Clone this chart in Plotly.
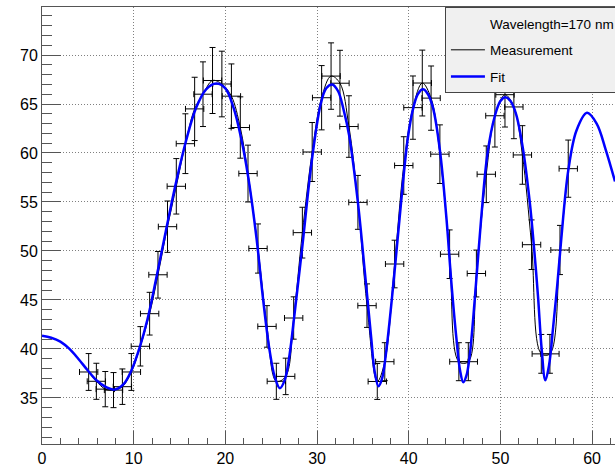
import plotly.graph_objects as go

# Measured points (position, signal) with their uncertainties
meas_x = [5.09, 5.93, 6.9, 7.8, 8.77, 9.75, 10.73, 11.74, 12.65, 13.69,
          14.65, 15.64, 16.65, 17.56, 18.6, 19.62, 20.66, 21.63, 22.47, 23.56,
          24.54, 25.56, 26.58, 27.45, 28.4, 29.47, 30.5, 31.53, 32.5, 33.48,
          34.46, 35.45, 36.57, 37.39, 38.46, 39.46, 40.46, 41.48, 42.44, 43.4,
          44.46, 45.47, 46.5, 47.38, 48.46, 49.4, 50.5, 51.47, 52.4, 53.4,
          54.46, 55.4, 56.5, 57.4]
meas_y = [37.65, 36.7, 35.9, 35.8, 36.15, 37.65, 40.27, 43.6, 47.57, 52.48,
          56.6, 60.95, 64.5, 66.0, 67.4, 67.04, 65.8, 62.6, 57.9, 50.25,
          42.3, 36.7, 37.2, 43.16, 51.87, 60.1, 65.64, 67.85, 67.12, 62.7,
          54.96, 44.42, 36.68, 38.7, 48.67, 58.72, 64.63, 67.14, 65.6, 59.88,
          49.67, 38.7, 38.7, 47.7, 57.83, 63.8, 65.95, 64.7, 59.8, 50.64,
          39.5, 39.5, 50.1, 58.4]
meas_ey = [1.88, 1.84, 1.80, 1.79, 1.81, 1.88, 2.01, 2.18, 2.38, 2.62,
           2.83, 3.05, 3.23, 3.30, 3.37, 3.35, 3.29, 3.13, 2.90, 2.51,
           2.12, 1.84, 1.86, 2.16, 2.59, 3.01, 3.28, 3.39, 3.36, 3.14,
           2.75, 2.22, 1.83, 1.94, 2.43, 2.94, 3.23, 3.36, 3.28, 2.99,
           2.48, 1.94, 1.94, 2.39, 2.89, 3.19, 3.30, 3.24, 2.99, 2.53,
           1.98, 1.98, 2.51, 2.92]
meas_ex = 1.0

# Fitted curve, sampled along the full axis
fit_x = [0.0, 1.0, 2.0, 3.0, 4.0, 5.0, 6.0, 7.0, 7.9, 8.85, 9.75, 10.7,
         11.5, 12.5, 13.5, 14.6, 15.7, 16.8, 17.9, 19.0, 20.0, 20.9,
         21.7, 22.5, 23.4, 24.1, 24.8, 25.4, 25.95, 26.5, 27.0, 27.5,
         28.4, 29.4, 30.4, 31.0, 31.65, 32.3, 32.9, 33.5, 34.45, 35.2,
         35.9, 36.3, 36.7, 37.1, 37.5, 38.3, 39.0, 39.9, 40.5, 41.0,
         41.55, 42.1, 42.65, 43.4, 44.1, 44.65, 45.2, 45.6, 45.95, 46.3,
         46.65, 47.2, 47.9, 48.6, 49.4, 50.0, 50.55, 51.1, 51.7, 52.45,
         53.2, 53.7, 54.1, 54.5, 54.9, 55.3, 55.75, 56.2, 56.6, 57.4,
         58.3, 59.45, 60.5, 61.5, 62.5]
fit_y = [41.36, 41.15, 40.75, 40.0, 38.95, 37.8, 36.75, 36.1, 35.85, 36.35, 37.8, 40.3,
         43.0, 47.4, 52.0, 56.9, 61.2, 64.6, 66.5, 67.1, 66.6, 64.6,
         61.6, 57.5, 51.3, 45.2, 40.0, 37.1, 36.0, 36.9, 39.4, 43.2,
         50.5, 59.0, 65.0, 66.6, 67.0, 66.3, 64.4, 61.8, 55.0, 48.0,
         41.2, 37.6, 36.2, 37.0, 39.4, 46.4, 53.3, 61.5, 64.6, 66.0,
         66.5, 66.0, 64.6, 60.3, 53.5, 46.8, 41.1, 37.8, 36.6, 37.3,
         39.3, 45.0, 53.3, 60.0, 63.8, 65.3, 65.7, 65.3, 64.0, 60.5,
         55.0, 50.0, 45.4, 40.0, 36.8, 38.3, 42.2, 46.5, 50.8, 58.2,
         62.3, 64.1, 63.0, 60.3, 57.1]

x_ticks = [0, 10, 20, 30, 40, 50, 60]
y_ticks = [35, 40, 45, 50, 55, 60, 65, 70]

AXIS = "#555555"
GRID = "#808080"
FONT = "Liberation Sans, Arial, Helvetica, sans-serif"

fig = go.Figure()

# header row of the legend (no symbol)
fig.add_trace(go.Scatter(
    x=[None], y=[None], mode="lines",
    line=dict(color="rgba(0,0,0,0)", width=1),
    name="Wavelength=170 nm", legendgroup="g0", hoverinfo="skip"))

fig.add_trace(go.Scatter(
    x=meas_x, y=meas_y, mode="lines", name="Measurement", legendgroup="g1",
    line=dict(color="black", width=1, shape="spline"),
    error_x=dict(type="constant", value=meas_ex, color="black", thickness=1, width=3),
    error_y=dict(type="data", array=meas_ey, color="black", thickness=1, width=3)))

fig.add_trace(go.Scatter(
    x=fit_x, y=fit_y, mode="lines", name="Fit", legendgroup="g2",
    line=dict(color="#0000ff", width=2.5, shape="spline", smoothing=1.0)))

fig.update_layout(
    width=615, height=468,
    margin=dict(l=42, r=0, t=7, b=24, autoexpand=False),
    paper_bgcolor="white", plot_bgcolor="white",
    font=dict(family=FONT, color="black"),
    showlegend=True,
    legend=dict(
        x=0.7032, y=1.0, xanchor="left", yanchor="top",
        bgcolor="#f0f0f0", bordercolor="#444444", borderwidth=1,
        font=dict(size=13.5, family=FONT, color="black"),
        tracegroupgap=6, traceorder="grouped", itemwidth=34,
    ),
    xaxis=dict(
        range=[0, 62.5], tickmode="array", tickvals=x_ticks,
        ticks="inside", ticklen=13, tickcolor=AXIS, tickwidth=1,
        showline=True, linecolor=AXIS, linewidth=1, mirror=True,
        showgrid=True, gridcolor=GRID, griddash="1px,2px", gridwidth=1,
        zeroline=False, tickfont=dict(size=16, family=FONT, color="black"),
        minor=dict(dtick=2, tick0=0, ticks="inside", ticklen=6,
                   tickcolor=AXIS, showgrid=False),
    ),
    yaxis=dict(
        range=[30.3, 74.9], tickmode="array", tickvals=y_ticks,
        ticks="inside", ticklen=19, tickcolor=AXIS, tickwidth=1,
        showline=True, linecolor=AXIS, linewidth=1, mirror=False,
        showgrid=True, gridcolor=GRID, griddash="1px,2px", gridwidth=1,
        zeroline=False, tickfont=dict(size=16, family=FONT, color="black"),
        minor=dict(dtick=1, tick0=0, ticks="inside", ticklen=10,
                   tickcolor=AXIS, showgrid=False),
    ),
)

fig.write_html("out.html")
